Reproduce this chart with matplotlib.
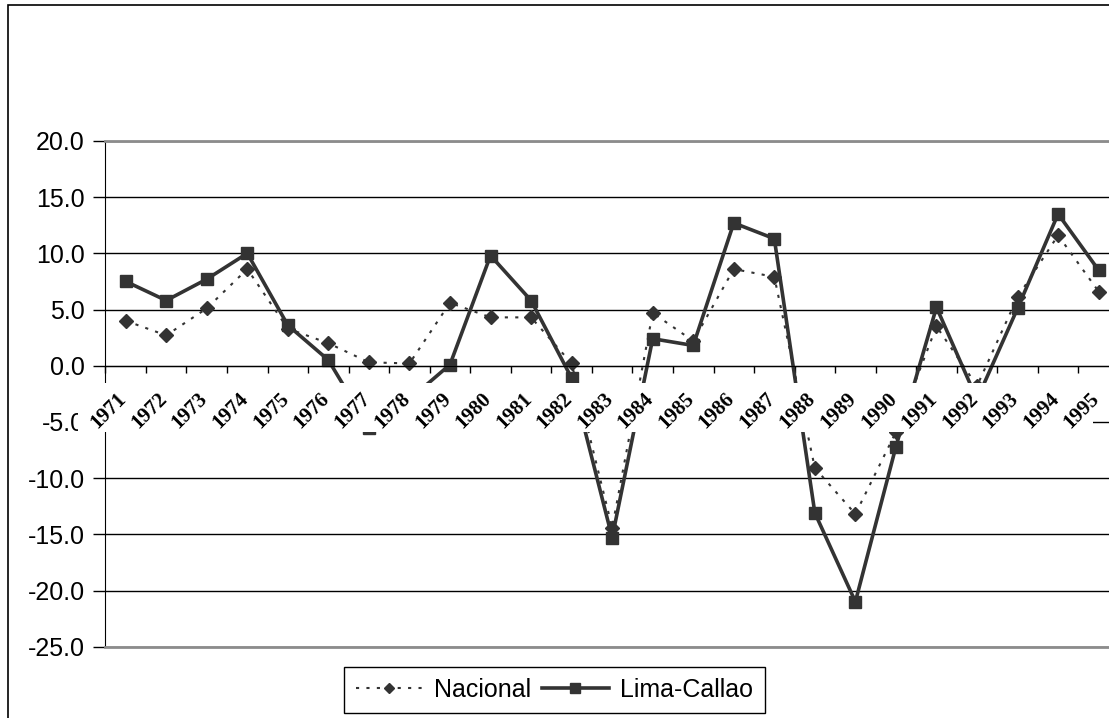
import numpy as np
import matplotlib
matplotlib.use('Agg')
import matplotlib.pyplot as plt
import matplotlib.transforms as mtransforms
from matplotlib.patches import Rectangle
from matplotlib.ticker import FormatStrFormatter

plt.rcParams['font.family'] = 'Liberation Sans'

years = ['1971', '1972', '1973', '1974', '1975', '1976', '1977', '1978', '1979',
         '1980', '1981', '1982', '1983', '1984', '1985', '1986', '1987', '1988',
         '1989', '1990', '1991', '1992', '1993', '1994', '1995']

nacional = [4.0, 2.7, 5.1, 8.6, 3.3, 2.0, 0.3, 0.2, 5.6, 4.3, 4.3, 0.2, -14.4,
            4.7, 2.2, 8.6, 7.9, -9.1, -13.2, -5.9, 3.5, -1.8, 6.1, 11.6, 6.6]
lima = [7.5, 5.8, 7.7, 10.0, 3.6, 0.5, -5.5, -3.0, 0.1, 9.8, 5.8, -1.1, -15.3,
        2.4, 1.8, 12.7, 11.3, -13.1, -21.0, -7.2, 5.2, -3.0, 5.1, 13.5, 8.5]

W, H = 1109, 718
fig = plt.figure(figsize=(W / 100, H / 100), dpi=100)
# plot area runs past the right edge of the figure
ax = fig.add_axes([105.4 / W, 1 - 646.7 / H, 1013.5 / W, (646.7 - 140.9) / H])

x = np.arange(len(years))
ax.plot(x, nacional, color='#333333', lw=1.5, ls=(0, (1.5, 3.5)), marker='D',
        ms=6.8, zorder=2, label='Nacional')
ax.plot(x, lima, color='#333333', lw=2.6, marker='s', ms=8.5, zorder=2,
        label='Lima-Callao')

ax.set_xlim(-0.5, len(years) - 0.5)
ax.set_ylim(-25, 20)
ax.set_yticks(np.arange(-25, 21, 5))
ax.yaxis.set_major_formatter(FormatStrFormatter('%.1f'))
ax.grid(axis='y', color='black', lw=1)
ax.tick_params(axis='y', labelsize=18, length=9, width=1, pad=6, colors='black')

# category axis sits at zero
ax.spines['bottom'].set_position(('data', 0))
ax.spines['bottom'].set_color('black')
ax.spines['left'].set_color('black')
ax.spines['top'].set_color('#8c8c8c')
ax.spines['top'].set_linewidth(2)
ax.spines['right'].set_visible(False)
ax.axhline(-25, color='#8c8c8c', lw=2, clip_on=False, zorder=2.6)
ax.set_xticks(np.arange(len(years) + 1) - 0.5)
ax.set_xticklabels([])
ax.tick_params(axis='x', length=5, width=1, direction='out')

# white strip behind the year labels
band = mtransforms.blended_transform_factory(ax.transAxes, ax.transData)
ax.add_patch(Rectangle((-0.027, -5.9), 1.0015, 4.36, transform=band,
                       facecolor='white', edgecolor='none', zorder=3,
                       clip_on=False))

off = mtransforms.offset_copy(ax.transData, fig=fig, x=-9, y=-23, units='dots')
for i, yr in enumerate(years):
    ax.text(i, 0, yr, transform=off, rotation=45, rotation_mode='anchor',
            ha='right', va='top', fontsize=15, fontweight='bold',
            family='Liberation Serif', zorder=4, clip_on=False)

leg = fig.legend(loc='center', bbox_to_anchor=(0.5, 1 - 690 / H), ncol=2,
                 fancybox=False, edgecolor='black', framealpha=1, fontsize=18,
                 handlelength=2.7, handletextpad=0.45, columnspacing=0.4,
                 borderpad=0.45, markerscale=0.8)
leg.get_frame().set_linewidth(1.0)

fig.patches.append(Rectangle((8 / W, -0.1), 1.2, 1 - 5 / H + 0.1,
                             transform=fig.transFigure, fill=False,
                             edgecolor='black', lw=1.2))

fig.savefig('out.png', dpi=100)
